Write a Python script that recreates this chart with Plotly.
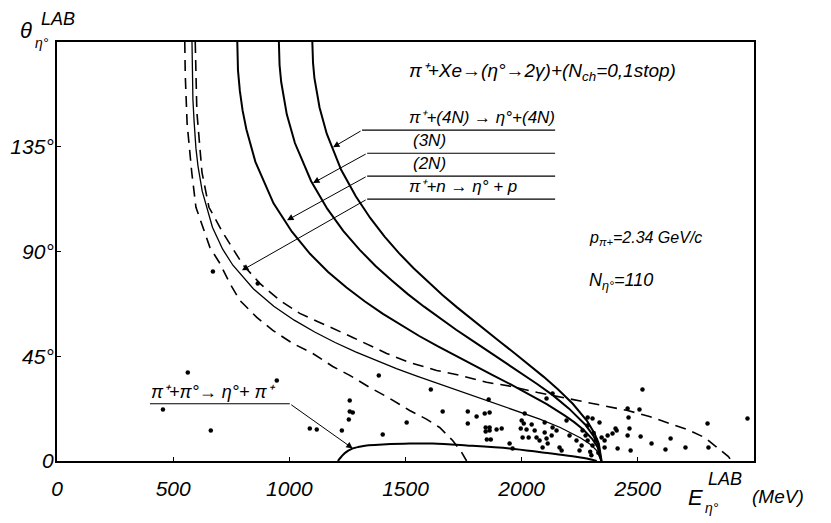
import plotly.graph_objects as go

# ---------------- data ----------------
# pi+ n -> eta p  (thin solid)
n_E = [581, 582, 585, 590, 598, 607, 625, 669, 713, 757, 845, 933, 1021, 1109, 1197, 1285,
       1373, 1461, 1549, 1637, 1725, 1814, 1902, 1990, 2078, 2166, 2210, 2254, 2298, 2324, 2342]
n_th = [180, 168.6, 155.2, 146, 134.3, 126.6, 115.9, 100.4, 91, 84.1, 74, 66.5, 60.5, 55.4, 50.9, 46.9,
        43.2, 39.7, 36.5, 33.4, 30.3, 27.3, 24.3, 21.2, 18, 14.4, 12.3, 9.9, 6.95, 4.4, 0]

# (2N)
n2_E = [776, 779, 787, 799, 815, 854, 932, 1011, 1089, 1167, 1246, 1324, 1403, 1481, 1559, 1638,
        1716, 1794, 1873, 1951, 2030, 2108, 2186, 2226, 2265, 2304, 2327, 2343]
n2_th = [180, 167.8, 159, 150.5, 142.5, 128.5, 110.7, 98.5, 89.0, 81.2, 74.5, 68.6, 63.2, 58.3, 53.7, 49.3,
         45.1, 41.0, 37.0, 33.0, 28.8, 24.4, 19.5, 16.7, 13.5, 9.45, 5.9, 0]

# (3N)
n3_E = [955, 958, 965, 976, 989, 1024, 1094, 1163, 1232, 1302, 1371, 1441, 1510, 1580, 1649, 1718,
        1788, 1857, 1927, 1996, 2065, 2135, 2204, 2274, 2308, 2329, 2343]
n3_th = [180, 170, 162.8, 155.8, 148.9, 136.6, 120.2, 108.4, 98.9, 90.8, 83.8, 77.5, 71.7, 66.3, 61.3, 56.4,
         51.7, 47.1, 42.6, 38.0, 33.2, 28.2, 22.5, 15.6, 10.9, 6.9, 0]

# (4N)
n4_E = [1099, 1102, 1108, 1118, 1130, 1161, 1223, 1286, 1348, 1410, 1472, 1535, 1597, 1659, 1722, 1784,
        1846, 1908, 1971, 2033, 2095, 2157, 2220, 2282, 2313, 2332, 2344]
n4_th = [180, 171, 164.5, 158.1, 151.9, 140.6, 125.1, 113.7, 104.4, 96.4, 89.3, 82.8, 76.9, 71.3, 66.0, 60.9,
         56.0, 51.1, 46.2, 41.3, 36.15, 30.7, 24.6, 17.1, 11.9, 7.5, 0]

# dashed bounds
dl_E = [550, 552, 560, 580, 598, 628, 658, 701, 744, 787, 860, 929, 1015, 1101, 1187, 1260, 1346, 1432,
        1518, 1590, 1647, 1703, 1740, 1763]
dl_th = [180, 166, 145, 124, 109, 100.4, 91.8, 84.9, 76.3, 69, 61.7, 56.1, 50.5, 46.2, 40.6, 36.8, 31.6, 26.9,
         21.7, 18, 14.4, 8.8, 4, 0]

dr_E = [595, 597, 602, 624, 654, 714, 800, 873, 959, 1045, 1161, 1273, 1419, 1518, 1634, 1733, 1849, 1953,
        2069, 2258, 2378, 2456, 2550, 2636, 2714, 2787, 2843, 2890, 2903]
dr_th = [180, 170, 150, 124, 109, 98.1, 84.3, 76.3, 69, 63.4, 58.2, 53.1, 46.2, 42.3, 38.9, 36.8, 33.8, 32.1,
         29.4, 25.6, 23.4, 21.7, 19.1, 16.1, 13.5, 10.1, 5.8, 1.9, 0]

# pi+ pi0 -> eta pi+
pp_E = [1209, 1222, 1240, 1273, 1300, 1333, 1402, 1518, 1617, 1763, 1948, 2090, 2193, 2280, 2323]
pp_th = [0, 1.6, 3.5, 5.4, 6.1, 6.7, 7.1, 7.5, 7.5, 6.7, 5.4, 3.7, 2.4, 1.1, 0]

# measured events
ev_E = [563, 456, 662, 946, 671, 864, 1088, 1118, 1226, 1260, 1260, 1273, 1256, 1385, 1402, 1505,
        1609, 1660, 1768, 1768, 1806, 1841, 1862, 1845, 1862, 1845, 1862, 1850, 1867, 1892, 1914, 1858,
        1948, 1961, 2000, 2009, 1996, 2021, 2043, 2004, 2030, 2056, 2064, 2077, 2099, 2107, 2090, 2112,
        2129, 2133, 2013, 2099, 2150, 2163, 2172, 2107, 2133, 2193, 2206, 2236, 2249, 2284, 2305, 2335,
        2344, 2357, 2370, 2391, 2409, 2404, 2413, 2469, 2456, 2460, 2464, 2456, 2512, 2507, 2520, 2559,
        2619, 2641, 2705, 2800, 2804, 2972, 2357, 2262, 2284, 2305, 2284, 2258, 2310, 2275, 2295, 2320,
        2300, 2330]
ev_th = [38.0, 22.1, 13.1, 34.6, 81.4, 76.2, 14.0, 13.5, 13.1, 26.0, 21.3, 20.8, 17.8, 36.7, 11.4, 16.5,
         30.7, 21.3, 21.3, 16.1, 19.1, 20.4, 20.8, 14.4, 14.4, 12.7, 13.1, 9.2, 9.2, 13.5, 14.0, 26.4,
         7.5, 5.4, 17.4, 16.1, 14.0, 13.5, 15.7, 10.1, 10.1, 13.1, 10.1, 8.8, 12.2, 9.7, 5.8, 7.5,
         11.0, 14.4, 20.4, 16.5, 13.1, 5.8, 4.5, 26.9, 29.0, 17.4, 11.0, 8.8, 4.5, 18.7, 18.3, 16.5,
         10.1, 8.8, 11.0, 11.8, 13.1, 14.0, 5.4, 4.5, 22.6, 18.7, 14.0, 11.0, 10.5, 22.1, 30.7, 7.5,
         4.9, 9.7, 5.8, 16.1, 5.8, 18.3, 5.8, 13.1, 8.8, 6.7, 15.2, 6.7, 12.0, 11.0, 4.0, 9.0,
         2.5, 3.5]

x_ticks = [0, 500, 1000, 1500, 2000, 2500]
x_ticklabels = ["0", "500", "1000", "1500", "2000", "2500"]
y_ticks = [0, 45, 90, 135]
y_ticklabels = ["0", "45°", "90°", "135°"]

# ---------------- figure ----------------
FONT = "Liberation Sans, Arial, sans-serif"
W, H = 831, 523
ML, MR, MT, MB = 57, 77, 42, 62
PW, PH = W - ML - MR, H - MT - MB


def px(xp):
    return (xp - ML) / PW


def py(yp):
    return (H - MB - yp) / PH


fig = go.Figure()

for xs, ys, w in [(n4_E, n4_th, 2.0), (n3_E, n3_th, 2.0), (n2_E, n2_th, 2.0), (n_E, n_th, 1.3)]:
    fig.add_trace(go.Scatter(x=xs, y=ys, mode="lines", line=dict(color="black", width=w),
                             hoverinfo="skip"))
for xs, ys in [(dl_E, dl_th), (dr_E, dr_th)]:
    fig.add_trace(go.Scatter(x=xs, y=ys, mode="lines",
                             line=dict(color="black", width=1.6, dash="11px,7px"), hoverinfo="skip"))
fig.add_trace(go.Scatter(x=pp_E, y=pp_th, mode="lines", line=dict(color="black", width=2),
                         line_shape="spline", hoverinfo="skip"))
fig.add_trace(go.Scatter(x=ev_E, y=ev_th, mode="markers",
                         marker=dict(color="black", size=4.5), hoverinfo="skip"))

# leader lines
leaders = [
    # (tipE, tipTh, elbowE, elbowTh, endE)
    (1188, 134.8, 1313, 142.1, 2144),
    (1102, 119.4, 1335, 132.2, 2144),
    (990, 103.4, 1335, 122.4, 2144),
    (796, 81.9, 1335, 112.5, 2144),
]
shapes = []
annotations = []
for tE, tT, eE, eT, endE in leaders:
    shapes.append(dict(type="line", x0=eE, y0=eT, x1=endE, y1=eT, xref="x", yref="y",
                       line=dict(color="black", width=1.2)))
    annotations.append(dict(x=tE, y=tT, ax=eE, ay=eT, axref="x", ayref="y", xref="x", yref="y",
                            text="", showarrow=True, arrowhead=2, arrowsize=1.3, arrowwidth=1,
                            arrowcolor="black", standoff=0))
# pi+ pi0 leader
shapes.append(dict(type="line", x0=400, y0=24.6, x1=1002, y1=24.6, xref="x", yref="y",
                   line=dict(color="black", width=1.2)))
annotations.append(dict(x=1273, y=5.4, ax=1002, ay=24.6, axref="x", ayref="y", xref="x", yref="y",
                        text="", showarrow=True, arrowhead=2, arrowsize=1.3, arrowwidth=1,
                        arrowcolor="black", standoff=0))


def txt(text, x, y, size, xanchor="left", yanchor="middle", xref="x", yref="y"):
    annotations.append(dict(text=text, x=x, y=y, xref=xref, yref=yref, showarrow=False,
                            xanchor=xanchor, yanchor=yanchor,
                            font=dict(family=FONT, size=size, color="black")))


txt("<i>π⁺+Xe→(η°→2γ)+(N<sub>ch</sub>=0,1stop)</i>", 1505, 167, 19)
txt("<i>π⁺+(4N) → η°+(4N)</i>", 1505, 147.5, 17)
txt("<i>(3N)</i>", 1525, 137.8, 17)
txt("<i>(2N)</i>", 1525, 128, 17)
txt("<i>π⁺+n → η° + p</i>", 1505, 117.8, 17)
txt("<i>p<sub>π+</sub>=2.34 GeV/c</i>", 2280, 95.5, 16)
txt("<i>N<sub>η°</sub>=110</i>", 2280, 77, 18)
txt("<i>π⁺+π°→ η°+ π⁺</i>", 395, 29.5, 18)

# axis titles (paper coords from pixel positions)
txt("<i>θ</i>", px(26), py(30), 22, "center", "middle", "paper", "paper")
txt("<i>η°</i>", px(42), py(43), 14, "center", "middle", "paper", "paper")
txt("<i>LAB</i>", px(58), py(19), 18, "center", "middle", "paper", "paper")
txt("<i>E</i>", px(695), py(497), 22, "center", "middle", "paper", "paper")
txt("<i>η°</i>", px(712), py(508), 14, "center", "middle", "paper", "paper")
txt("<i>LAB</i>", px(725), py(479), 18, "center", "middle", "paper", "paper")
txt("<i>(MeV)</i>", px(778), py(496), 19, "center", "middle", "paper", "paper")

fig.update_layout(
    width=W, height=H,
    margin=dict(l=ML, r=MR, t=MT, b=MB, pad=0, autoexpand=False),
    paper_bgcolor="white", plot_bgcolor="white",
    showlegend=False,
    shapes=shapes, annotations=annotations,
    font=dict(family=FONT, color="black"),
)
fig.update_xaxes(range=[0, 3000], tickvals=x_ticks, ticktext=["<i>%s</i>" % t for t in x_ticklabels],
                 showgrid=False, zeroline=False, showline=True, linecolor="black", linewidth=2,
                 mirror=True, ticks="inside", ticklen=4, tickcolor="black", automargin=False,
                 tickfont=dict(family=FONT, size=21, color="black"), ticklabelstandoff=8)
fig.update_yaxes(range=[0, 180], tickvals=y_ticks, ticktext=["<i>%s</i>" % t for t in y_ticklabels],
                 showgrid=False, zeroline=False, showline=True, linecolor="black", linewidth=2,
                 mirror=True, ticks="inside", ticklen=4, tickcolor="black", automargin=False,
                 tickfont=dict(family=FONT, size=21, color="black"), ticklabelstandoff=-3)

fig.write_html("out.html", config={"displayModeBar": False},
               post_script="document.body.style.margin='0';")
